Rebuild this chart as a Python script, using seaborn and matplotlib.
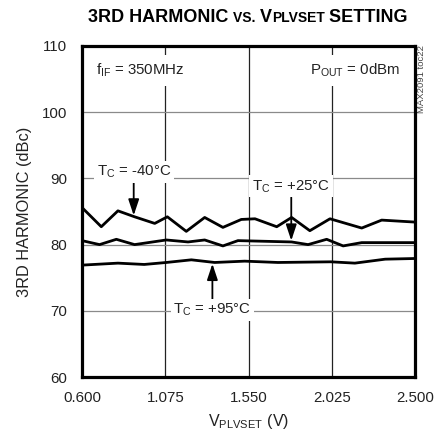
import matplotlib
matplotlib.use("Agg")
import matplotlib.pyplot as plt
import seaborn as sns
import pandas as pd
from matplotlib.offsetbox import TextArea, HPacker, AnchoredOffsetbox

sns.set_theme(style="white")
plt.rcParams['font.family'] = ['Liberation Sans Narrow', 'Liberation Sans', 'DejaVu Sans']
plt.rcParams['mathtext.default'] = 'regular'

# Data
v_m40 = [0.600, 0.710, 0.805, 0.900, 1.015, 1.087, 1.195, 1.300, 1.404, 1.509, 1.587,
         1.711, 1.796, 1.900, 2.015, 2.196, 2.310, 2.500]
h_m40 = [85.6, 82.7, 85.1, 84.2, 83.2, 84.2, 82.0, 84.1, 82.6, 83.8, 83.9,
         82.7, 84.1, 82.1, 83.9, 82.5, 83.7, 83.4]
v_p25 = [0.600, 0.700, 0.796, 0.900, 1.081, 1.205, 1.300, 1.404, 1.490, 1.796,
         1.890, 1.996, 2.090, 2.196, 2.500]
h_p25 = [80.6, 80.0, 80.8, 80.0, 80.7, 80.4, 80.7, 79.8, 80.6, 80.4,
         80.0, 80.8, 79.8, 80.3, 80.3]
v_p95 = [0.600, 0.805, 0.955, 1.081, 1.224, 1.357, 1.528, 1.718, 2.020, 2.157, 2.330, 2.500]
h_p95 = [76.9, 77.2, 77.0, 77.3, 77.7, 77.3, 77.5, 77.3, 77.4, 77.2, 77.8, 77.9]

x_ticks = [0.600, 1.075, 1.550, 2.025, 2.500]
x_tick_labels = ["0.600", "1.075", "1.550", "2.025", "2.500"]
y_ticks = [60, 70, 80, 90, 100, 110]

df = pd.concat([
    pd.DataFrame({"V": v_m40, "H": h_m40, "T": "-40"}),
    pd.DataFrame({"V": v_p25, "H": h_p25, "T": "+25"}),
    pd.DataFrame({"V": v_p95, "H": h_p95, "T": "+95"}),
])

fig = plt.figure(figsize=(4.37, 4.40), dpi=100)
ax = fig.add_axes([82/437, 1-377/440, (415-82)/437, (377-46)/440])

# grid
for xv in x_ticks[1:-1]:
    ax.axvline(xv, color="#222222", lw=0.9, zorder=1)
for yv in y_ticks[1:-1]:
    ax.axhline(yv, color="#8a8a8a", lw=0.9, zorder=1)

sns.lineplot(data=df, x="V", y="H", units="T", estimator=None, color="black",
             lw=2.0, ax=ax, legend=False, zorder=3, sort=False)

FS = 10.8
ax.set_xlim(0.6, 2.5)
ax.set_ylim(60, 110)
ax.set_xticks(x_ticks)
ax.set_xticklabels(x_tick_labels)
ax.set_yticks(y_ticks)
ax.tick_params(axis="both", labelsize=FS, colors="black", length=0)
ax.tick_params(axis="y", pad=10.5)
ax.tick_params(axis="x", pad=10)
for lab in ax.get_xticklabels() + ax.get_yticklabels():
    lab.set_color("#222222")
for s in ax.spines.values():
    s.set_color("black")
    s.set_linewidth(2.3)

ax.set_xlabel(r"V$_{PLVSET}$ (V)", fontsize=11.5, color="#222222", labelpad=5)
ax.set_ylabel("3RD HARMONIC (dBc)", fontsize=11.8, color="#222222", labelpad=7)

bb = dict(facecolor="white", edgecolor="none", pad=2.0)
ax.text(0.68, 106.3, r"f$_{IF}$ = 350MHz", fontsize=FS, ha="left", va="center",
        bbox=dict(facecolor="white", edgecolor="none", pad=5), zorder=4, color="#222222")
ax.text(2.414, 106.3, r"P$_{OUT}$ = 0dBm", fontsize=FS, ha="right", va="center",
        bbox=dict(facecolor="white", edgecolor="none", pad=5), zorder=4, color="#222222")

arrow = dict(arrowstyle="-|>,head_length=0.9,head_width=0.3", color="black", lw=1.3,
             shrinkA=0, shrinkB=0)
ax.annotate(r"T$_C$ = -40°C", xy=(0.895, 84.4), xytext=(0.895, 91.0), fontsize=FS,
            ha="center", va="center", bbox=bb, arrowprops=arrow, zorder=5, color="#222222")
ax.annotate(r"T$_C$ = +25°C", xy=(1.794, 80.6), xytext=(1.794, 88.8), fontsize=FS,
            ha="center", va="center", bbox=bb, arrowprops=arrow, zorder=5, color="#222222")
ax.annotate(r"T$_C$ = +95°C", xy=(1.344, 77.1), xytext=(1.344, 70.1), fontsize=FS,
            ha="center", va="center", bbox=bb, arrowprops=arrow, zorder=5, color="#222222")

fig.text(421/437, 1-79/440, "MAX2091 toc22", rotation=90, fontsize=6.8, color="#444444",
         ha="center", va="center")

# title with mixed sizes
big, small = 13.0, 10.0
parts = [("3RD HARMONIC ", big), ("VS. ", small), ("V", big), ("PLVSET", small), (" SETTING", big)]
areas = [TextArea(t, textprops=dict(fontsize=s, fontweight="bold", color="black",
                                    family=['Liberation Sans Narrow', 'Liberation Sans', 'DejaVu Sans']))
         for t, s in parts]
pack = HPacker(children=areas, align="baseline", pad=0, sep=0)
anch = AnchoredOffsetbox(loc="center", child=pack, bbox_to_anchor=(248/437, 1-18/440),
                         bbox_transform=fig.transFigure, frameon=False, pad=0, borderpad=0)
fig.add_artist(anch)

fig.savefig("out.png", dpi=100)
